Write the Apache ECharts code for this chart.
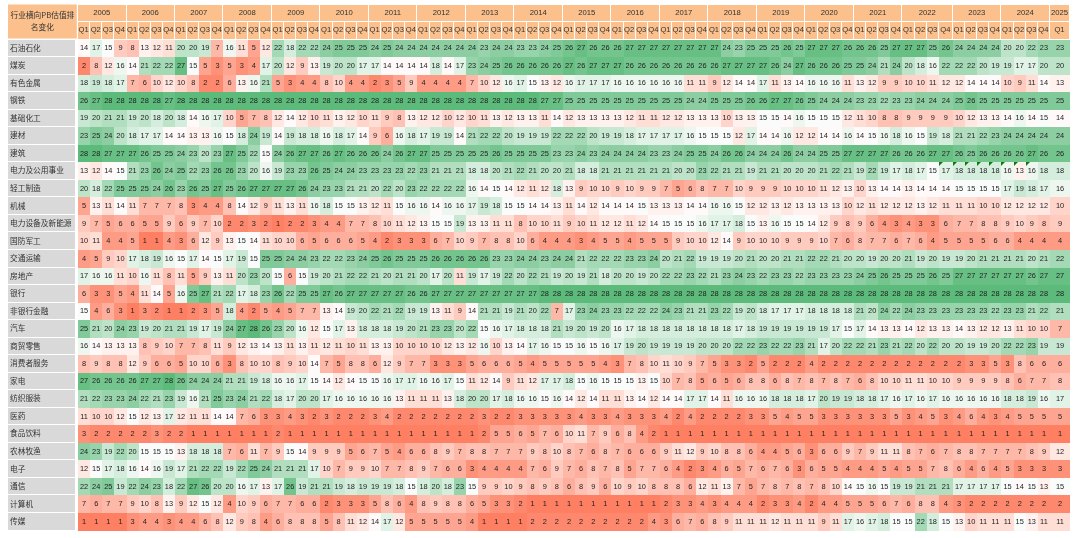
<!DOCTYPE html>
<html><head><meta charset="utf-8">
<style>html,body{margin:0;padding:0;background:#fff}#c{width:1080px;height:538px}</style>
<script src="https://cdn.jsdelivr.net/npm/echarts@6/dist/echarts.min.js"></script>
</head><body><div id="c"></div>
<script>
const cornerTitle = '行业横向PB估值排\n名变化';
const years = [2005,2006,2007,2008,2009,2010,2011,2012,2013,2014,2015,2016,2017,2018,2019,2020,2021,2022,2023,2024,2025];
const quarterNames = ['Q1','Q2','Q3','Q4'];
const industries = ['石油石化','煤炭','有色金属','钢铁','基础化工','建材','建筑','电力及公用事业','轻工制造','机械','电力设备及新能源','国防军工','交通运输','房地产','银行','非银行金融','汽车','商贸零售','消费者服务','家电','纺织服装','医药','食品饮料','农林牧渔','电子','通信','计算机','传媒'];
const r01 = [14,17,15,9, 8,13,12,11, 20,20,19,7, 16,11,5,12, 22,18,22,22, 24,25,25,25, 24,25,24,24, 24,24,24,24, 24,23,24,24, 23,23,24,25, 26,27,26,26, 26,27,27,27, 27,27,27,27, 27,24,23,25, 25,25,26,25, 27,27,27,26, 26,26,25,27, 27,27,25,26, 24,24,24,24, 20,20,22,23, 23];
const r02 = [2,8,12,16, 14,21,22,22, 27,15,5,3, 5,3,4,17, 20,12,9,13, 19,20,20,17, 17,14,14,14, 14,18,14,17, 23,24,25,26, 26,26,26,26, 27,26,27,27, 27,26,26,26, 26,26,26,26, 26,27,27,27, 27,26,24,27, 26,26,26,25, 25,24,21,24, 20,18,16,22, 22,22,20,19, 19,17,17,20, 20];
const r03 = [18,19,18,17, 7,6,10,12, 10,8,2,2, 6,13,16,21, 5,3,4,4, 8,10,4,4, 2,3,5,9, 4,4,4,4, 7,10,12,16, 17,15,13,12, 16,17,17,17, 16,16,16,16, 16,16,11,11, 9,12,14,14, 17,11,13,14, 16,16,16,11, 13,12,9,9, 10,10,11,12, 12,14,14,14, 10,9,11,14, 13];
const r04 = [26,27,28,28, 28,28,28,27, 28,28,28,28, 28,28,28,28, 28,28,28,28, 28,28,28,28, 28,28,28,28, 28,28,28,28, 28,28,28,28, 28,28,27,27, 25,25,25,25, 25,25,25,25, 25,25,24,24, 25,25,25,26, 26,27,27,26, 25,24,24,24, 23,23,22,23, 23,24,24,24, 25,26,25,25, 25,25,25,25, 25];
const r05 = [19,20,21,21, 19,20,18,20, 18,14,16,17, 10,5,7,8, 12,14,12,10, 11,13,12,10, 11,9,8,13, 12,12,10,12, 10,11,13,12, 13,13,11,14, 12,13,13,13, 13,12,11,11, 12,12,13,13, 13,10,13,13, 15,15,14,16, 15,15,15,12, 11,10,8,8, 9,9,9,9, 10,12,13,13, 14,16,14,15, 14];
const r06 = [23,25,24,20, 18,17,17,14, 14,13,13,16, 15,18,24,19, 14,19,18,18, 16,18,17,14, 9,6,16,18, 17,19,19,14, 21,22,22,20, 19,19,19,22, 22,22,20,19, 19,18,17,17, 17,17,16,15, 15,15,12,17, 14,14,16,12, 12,14,14,16, 14,15,16,18, 16,15,19,18, 21,21,22,23, 24,24,24,24, 24];
const r07 = [28,28,27,27, 27,26,25,25, 24,23,20,23, 27,25,22,15, 24,26,27,27, 26,27,26,26, 26,24,26,27, 27,25,25,25, 25,25,26,25, 25,25,25,23, 23,24,23,24, 24,24,24,23, 23,24,25,25, 24,26,26,24, 24,24,26,24, 24,25,25,27, 27,27,27,26, 26,26,27,27, 26,25,26,26, 26,26,27,26, 26];
const r08 = [13,12,14,15, 21,23,26,24, 25,22,23,26, 26,23,20,16, 19,23,23,26, 25,24,24,23, 23,23,23,22, 23,21,21,21, 18,18,20,21, 22,21,20,20, 21,18,18,21, 21,21,21,21, 21,20,20,23, 22,21,21,19, 21,21,20,20, 20,21,22,21, 19,22,19,17, 18,17,15,17, 18,18,18,18, 16,13,16,18, 18];
const r09 = [20,18,22,25, 25,25,24,26, 23,26,25,27, 25,26,27,27, 27,27,26,24, 23,23,21,21, 20,22,20,23, 22,22,22,22, 16,14,15,14, 12,11,12,18, 13,9,10,10, 9,10,9,9, 7,5,6,8, 7,7,10,9, 9,9,10,10, 10,11,12,13, 10,13,14,14, 13,14,14,14, 15,15,15,15, 17,19,18,17, 16];
const r10 = [5,13,11,14, 11,7,7,7, 8,3,4,4, 8,14,12,9, 11,13,11,16, 18,15,15,13, 12,11,15,16, 16,14,16,16, 17,19,18,15, 15,14,14,13, 11,14,12,14, 14,14,15,13, 13,13,14,14, 16,16,15,12, 12,13,12,13, 13,13,13,10, 12,11,12,12, 12,13,12,11, 11,11,10,10, 12,12,12,12, 10];
const r11 = [9,7,5,6, 6,5,5,9, 6,9,7,10, 2,2,3,2, 1,2,2,3, 4,4,7,7, 8,10,11,12, 13,15,15,19, 13,13,11,11, 8,10,10,11, 9,10,11,12, 12,11,12,14, 15,15,15,16, 17,17,18,15, 13,16,15,15, 14,12,9,8, 9,6,4,3, 4,3,3,6, 7,7,8,8, 9,10,9,8, 9];
const r12 = [10,11,4,4, 5,1,1,4, 3,6,12,9, 13,15,14,11, 10,10,6,5, 6,6,6,5, 4,2,3,3, 3,6,7,10, 9,7,8,8, 10,6,4,4, 4,3,4,5, 5,4,5,5, 5,9,10,10, 12,14,9,10, 10,10,9,9, 9,10,7,6, 8,7,7,6, 7,6,4,5, 5,5,5,6, 6,4,4,4, 4];
const r13 = [4,5,9,10, 17,18,19,16, 15,17,14,15, 17,19,15,25, 25,24,24,23, 22,22,23,24, 25,26,25,25, 25,26,26,26, 26,26,23,23, 24,24,23,24, 24,21,22,22, 22,23,23,24, 20,21,22,19, 19,19,20,21, 20,20,21,21, 22,22,21,20, 20,19,20,20, 21,19,20,19, 19,20,21,21, 21,21,20,21, 22];
const r14 = [17,16,16,11, 10,16,11,8, 11,5,9,13, 11,20,23,20, 15,6,15,19, 20,21,22,22, 21,20,21,21, 20,17,20,11, 19,17,19,22, 20,22,21,19, 20,19,21,18, 20,20,19,20, 22,22,23,22, 21,23,24,23, 22,23,23,22, 23,23,23,23, 24,25,26,25, 25,25,26,25, 27,27,27,27, 27,27,26,27, 27];
const r15 = [6,3,3,5, 4,11,14,5, 16,25,27,21, 22,17,18,23, 26,22,25,25, 27,26,27,27, 27,27,27,26, 26,27,27,27, 27,27,27,27, 27,27,28,28, 28,28,28,28, 28,28,28,28, 28,28,28,28, 28,28,28,28, 28,28,28,28, 28,28,28,28, 28,28,28,28, 28,28,28,28, 28,28,28,28, 28,28,28,28, 28];
const r16 = [15,4,6,3, 1,3,2,1, 1,2,3,5, 18,4,2,5, 4,5,7,7, 13,14,19,20, 22,21,22,19, 19,13,11,9, 14,21,21,19, 21,20,22,7, 17,23,24,23, 23,22,22,22, 24,23,21,21, 23,22,19,20, 18,17,17,17, 18,18,18,18, 21,20,24,22, 24,23,23,23, 23,23,23,22, 23,23,21,22, 21];
const r17 = [25,21,20,24, 23,19,20,21, 21,19,17,19, 24,27,28,26, 23,20,16,12, 15,17,13,18, 18,18,19,20, 21,23,23,20, 22,15,16,17, 18,18,18,21, 19,20,19,20, 16,17,18,18, 18,18,18,18, 18,18,17,18, 19,19,19,19, 19,19,17,15, 17,14,13,13, 14,12,13,13, 14,13,12,12, 13,11,10,10, 7];
const r18 = [16,14,13,13, 13,8,9,10, 7,7,8,11, 9,12,13,14, 13,11,13,11, 12,11,10,11, 13,13,10,10, 10,10,12,13, 12,16,10,13, 14,17,16,15, 15,16,15,16, 17,19,20,19, 19,19,19,20, 20,20,22,22, 23,22,22,23, 21,17,20,22, 22,21,23,21, 22,20,22,20, 20,19,19,20, 22,22,23,19, 19];
const r19 = [8,9,8,8, 12,9,6,6, 5,10,10,6, 3,8,10,10, 8,9,10,14, 7,5,8,8, 6,12,9,7, 7,3,3,3, 5,6,6,6, 5,4,5,5, 5,5,5,4, 3,7,8,10, 11,10,9,7, 5,3,3,2, 5,2,2,2, 4,2,2,2, 2,2,2,2, 2,2,2,2, 2,3,3,5, 3,8,6,6, 6];
const r20 = [27,26,26,26, 26,27,27,28, 26,24,24,24, 21,21,19,18, 16,16,17,15, 14,12,14,15, 15,16,17,17, 16,16,17,15, 11,12,14,9, 11,12,17,17, 18,15,16,15, 15,15,13,15, 10,7,8,5, 6,5,6,8, 8,6,8,7, 8,7,8,7, 6,8,10,10, 11,11,10,10, 9,9,9,9, 8,6,7,7, 8];
const r21 = [21,22,23,23, 24,22,21,23, 19,16,21,25, 23,24,21,22, 18,17,20,20, 17,16,16,16, 16,16,13,11, 11,11,13,18, 20,20,17,18, 16,16,15,16, 14,12,14,11, 11,13,14,12, 14,14,17,17, 14,11,16,16, 16,18,18,18, 17,20,19,19, 18,18,17,16, 17,16,17,16, 16,16,16,16, 18,18,19,16, 17];
const r22 = [11,10,10,12, 15,12,13,17, 12,11,11,14, 14,7,6,3, 3,4,3,2, 3,2,2,2, 3,4,2,2, 2,2,2,2, 2,3,2,2, 3,3,3,3, 3,4,3,3, 4,3,3,3, 4,2,4,2, 2,2,2,3, 3,5,4,5, 5,3,3,3, 3,3,3,5, 3,4,5,3, 4,6,4,3, 4,5,5,5, 5];
const r23 = [3,2,2,2, 2,2,3,2, 2,1,1,1, 1,1,1,1, 2,1,1,1, 1,1,1,1, 1,1,1,1, 1,1,1,1, 1,2,5,5, 6,5,7,6, 10,11,7,9, 6,8,4,2, 1,1,1,1, 1,1,1,1, 1,1,1,1, 1,1,1,1, 1,1,1,1, 1,1,1,1, 1,1,1,1, 1,1,1,1, 1];
const r24 = [24,23,19,22, 20,15,15,15, 13,18,18,18, 7,6,11,7, 9,15,14,9, 9,9,5,6, 7,5,4,6, 6,8,9,7, 8,8,7,7, 7,9,8,10, 8,7,6,8, 7,6,6,6, 9,11,12,9, 10,8,8,6, 4,4,5,6, 3,6,6,9, 7,9,11,11, 8,7,6,7, 8,8,7,7, 7,7,8,9, 12];
const r25 = [12,15,17,18, 16,14,16,19, 17,21,22,22, 19,22,25,24, 21,21,21,17, 10,7,9,9, 10,7,7,8, 9,7,6,6, 3,4,4,4, 4,7,6,9, 7,6,8,7, 8,5,7,7, 6,4,2,3, 4,6,5,7, 6,7,6,3, 6,5,5,4, 4,4,5,4, 5,5,7,8, 6,4,6,4, 5,3,3,3, 3];
const r26 = [22,24,25,19, 22,24,23,18, 22,27,26,20, 20,16,17,13, 17,26,19,21, 21,19,18,19, 19,19,18,15, 18,20,18,23, 15,9,9,10, 9,8,9,8, 6,8,9,6, 10,9,10,8, 8,8,6,12, 11,13,7,5, 7,8,7,8, 7,8,10,14, 15,16,15,19, 19,21,21,21, 17,17,17,17, 15,14,15,13, 15];
const r27 = [7,6,7,7, 9,10,8,13, 9,12,15,12, 4,10,9,6, 7,7,6,6, 2,3,3,3, 5,8,6,4, 8,9,8,8, 6,5,3,3, 2,1,1,1, 1,1,1,1, 1,1,1,1, 2,3,3,4, 3,4,4,4, 2,3,3,4, 2,4,4,5, 5,5,6,7, 6,8,8,4, 3,2,2,2, 2,2,2,2, 2];
const r28 = [1,1,1,1, 3,4,4,3, 4,4,6,8, 12,9,8,4, 6,8,8,8, 5,8,11,12, 14,17,12,5, 5,5,5,5, 4,1,1,1, 1,2,2,2, 2,2,2,2, 2,2,2,4, 3,6,7,6, 8,9,11,11, 11,12,11,11, 11,9,11,17, 16,17,18,15, 15,22,18,15, 13,10,11,11, 11,15,13,11, 11];
const rankRows = [r01,r02,r03,r04,r05,r06,r07,r08,r09,r10,r11,r12,r13,r14,r15,r16,r17,r18,r19,r20,r21,r22,r23,r24,r25,r26,r27,r28];
// Cells carrying the small green corner flag: row 电力及公用事业, 2022Q4 to 2024Q3
const flagRow = 7;
const flagCols = [71,72,73,74,75,76,77,78];

const colSpan = c => c === 71 ? 1.17 : (c === 80 ? 1.65 : 1);
const colCount = r01.length;
const edges = [0];
for (let c = 0; c < colCount; c++) edges.push(edges[c] + colSpan(c));
const labelLeft = -5.774, labelRight = -0.17;

const heatData = [];
rankRows.forEach((row, r) => row.forEach((v, c) => heatData.push([edges[c], r, v, colSpan(c)])));
const yearData = [], quarterData = [];
years.forEach((y, i) => {
  const n = i === years.length - 1 ? 1 : 4, s = i * 4;
  yearData.push([edges[s], -2, String(y), edges[s + n] - edges[s]]);
  for (let q = 0; q < n; q++) quarterData.push([edges[s + q], -1, quarterNames[q], colSpan(s + q)]);
});
const labelData = industries.map((n, r) => [labelLeft, r, n, labelRight - labelLeft]);
const flagData = flagCols.map(c => [edges[c], flagRow]);

const NUM_FONT = '7.4px "Liberation Sans", Arial, sans-serif';
const CJK_FONT = '7.7px "Noto Sans CJK SC", "Liberation Sans", sans-serif';
const HEAD = '#FBC08B';

function cell(api, fill, gap, text, font, color, align) {
  const a = api.coord([api.value(0), api.value(1)]);
  const b = api.coord([api.value(0) + api.value(3), api.value(1) + 1]);
  const x0 = Math.round(a[0]), y0 = Math.round(a[1]), x1 = Math.round(b[0]), y1 = Math.round(b[1]);
  const kids = [{type:'rect', shape:{x:x0, y:y0, width:x1-x0-gap, height:y1-y0-gap}, style:{fill:fill}}];
  kids.push({type:'text', style:{
    x: align === 'left' ? a[0] + 2 : (a[0]+b[0]-gap)/2, y:(a[1]+b[1]-gap)/2,
    text:text, font:font, fill:color, align:align || 'center', verticalAlign:'middle'}});
  return {type:'group', children:kids};
}

const chart = echarts.init(document.getElementById('c'), null, {renderer:'canvas'});
chart.setOption({
  animation:false,
  backgroundColor:'#ffffff',
  grid:{left:8, right:10, top:4.5, bottom:7.5},
  xAxis:{type:'value', min:labelLeft, max:edges[colCount], show:false},
  yAxis:{type:'value', min:-2, max:28, inverse:true, show:false},
  visualMap:{show:false, type:'continuous', seriesIndex:0, dimension:2, min:1, max:28,
    inRange:{color:['#FE7F62','#FFFFFF','#5CBA7A']}},
  series:[
    {type:'custom', name:'rank', data:heatData, encode:{x:0,y:1}, clip:false,
     renderItem:(p,api)=>cell(api, api.visual('color'), 0, String(api.value(2)), NUM_FONT, '#222', 'center')},
    {type:'custom', name:'years', data:yearData, encode:{x:0,y:1}, clip:false,
     renderItem:(p,api)=>cell(api, HEAD, 1, yearData[p.dataIndex][2], NUM_FONT.replace('7.4','7.7'), '#333', 'center')},
    {type:'custom', name:'quarters', data:quarterData, encode:{x:0,y:1}, clip:false,
     renderItem:(p,api)=>cell(api, HEAD, 1, quarterData[p.dataIndex][2], NUM_FONT.replace('7.4','7.6'), '#333', 'center')},
    {type:'custom', name:'industries', data:labelData, encode:{x:0,y:1}, clip:false,
     renderItem:(p,api)=>cell(api, '#D9D9D9', 1, labelData[p.dataIndex][2], CJK_FONT, '#333', 'left')},
    {type:'custom', name:'corner', data:[[labelLeft,-2,cornerTitle,labelRight-labelLeft+0.07]], encode:{x:0,y:1}, clip:false,
     renderItem:(p,api)=>{
       const a = api.coord([api.value(0), -2]), b = api.coord([api.value(0)+api.value(3), 0]);
       return {type:'group', children:[
         {type:'rect', shape:{x:a[0],y:a[1],width:b[0]-a[0],height:b[1]-a[1]-1}, style:{fill:HEAD}},
         {type:'text', style:{x:(a[0]+b[0])/2, y:(a[1]+b[1]-1)/2, text:cornerTitle, font:CJK_FONT, lineHeight:12, fill:'#333', align:'center', verticalAlign:'middle'}}
       ]};
     }},
    {type:'custom', name:'flags', data:flagData, encode:{x:0,y:1}, clip:false, z:5,
     renderItem:(p,api)=>{
       const a = api.coord([api.value(0), api.value(1)]);
       const x = Math.round(a[0]), y = Math.round(a[1]);
       return {type:'polygon', shape:{points:[[x,y],[x+4,y],[x,y+4]]}, style:{fill:'#0B7A0B'}};
     }}
  ]
});
</script></body></html>
